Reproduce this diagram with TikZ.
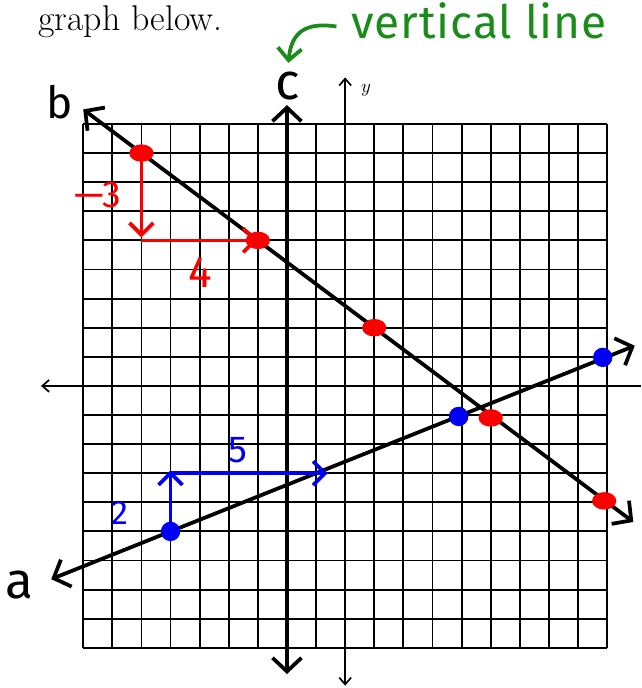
\documentclass[tikz,border=0pt]{standalone}
\usepackage{fontspec}
\usepackage{xcolor}
\newfontfamily\handfont{Fira Sans}
\usetikzlibrary{arrows.meta, shapes.geometric}

\definecolor{penred}{RGB}{250,0,0}
\definecolor{penblue}{RGB}{0,0,245}
\definecolor{pengreen}{RGB}{25,140,25}

\begin{document}
\begin{tikzpicture}[
    x=0.6cm, y=0.6cm,
    gridline/.style={line width=1.1pt},
    axisline/.style={line width=1pt},
    graphline/.style={line width=2.2pt, {Straight Barb[length=8pt,width=17pt]}-{Straight Barb[length=8pt,width=17pt]}},
    pentip/.style={-{Straight Barb[length=7pt,width=14pt]}, line width=2.2pt},
    rdot/.style={ellipse, fill=penred, minimum width=0.5cm, minimum height=0.36cm, inner sep=0pt},
    bdot/.style={circle, fill=penblue, minimum size=0.4cm, inner sep=0pt},
    hand/.style={font=\handfont\fontsize{#1}{#1}\selectfont},
  ]
  \useasboundingbox (-11.86,-10.38) rectangle (10.17,13.26);

  % grid and axes
  \draw[gridline, step=1] (-9,-9) grid (9,9);
  \draw[axisline, -{Straight Barb[length=4pt,width=7pt]}] (10.17,0) -- (-10.45,0);
  \draw[axisline, {Straight Barb[length=4pt,width=7pt]}-{Straight Barb[length=4pt,width=7pt]}] (0,-10.3) -- (0,10.6);
  \node (ylab) at (0.72,10.15) {\fontsize{11}{11}\selectfont$y$};

  % the three lines
  \draw[graphline] (-2,-9.9) -- (-2,9.65);
  \draw[graphline] (-9,9.5) -- (9.9,-4.675);
  \draw[graphline] (-10.1,-6.64) -- (9.95,1.38);

  \node[hand=26] (lab-b) at (-9.8,9.75) {b};
  \node[hand=30] (lab-c) at (-1.96,10.3) {c};
  \node[hand=30] (lab-a) at (-11.2,-6.85) {a};

  % points on b
  \node[rdot] (r1) at (-7,8) {};
  \node[rdot] (r2) at (-3,5) {};
  \node[rdot] (r3) at (1,2) {};
  \node[rdot] (r4) at (5,-1.1) {};
  \node[rdot] (r5) at (8.9,-3.95) {};
  \coordinate (rc) at (-7,5);
  \draw[pentip, penred] (r1.center) -- (-7,5.1);
  \draw[pentip, penred] (rc) -- (r2.center);
  \node[hand=22, penred] (lab-m3) at (-8.5,6.55) {\textemdash3};
  \node[hand=26, penred] (lab-4) at (-4.98,3.9) {4};

  % points on a
  \node[bdot] (b1) at (-6,-5) {};
  \node[bdot] (b2) at (3.9,-1.05) {};
  \node[bdot] (b3) at (8.85,0.98) {};
  \coordinate (bc) at (-6,-3);
  \coordinate (bend) at (-0.6,-3);
  \draw[pentip, penblue] (b1.center) -- (-6,-2.9);
  \draw[pentip, penblue] (bc) -- (bend);
  \node[hand=20, penblue] (lab-2) at (-7.75,-4.35) {2};
  \node[hand=22, penblue] (lab-5) at (-3.7,-2.2) {5};

  % heading and note
  \node[anchor=base west, inner sep=0pt] (head) at (-10.55,12.2)
    {\fontsize{21}{23}\selectfont graph below.};
  \node[hand=27, pengreen, anchor=base west, inner sep=0pt] (note) at (0.2,11.95)
    {\addfontfeature{LetterSpace=2}vertical line};
  \coordinate (gs) at (-0.3,12.35);
  \coordinate (gt) at (-1.95,11.1);
  \draw[pentip, pengreen] (gs) .. controls (-1.3,12.5) and (-1.85,12.2) .. (gt);
\end{tikzpicture}
\end{document}
